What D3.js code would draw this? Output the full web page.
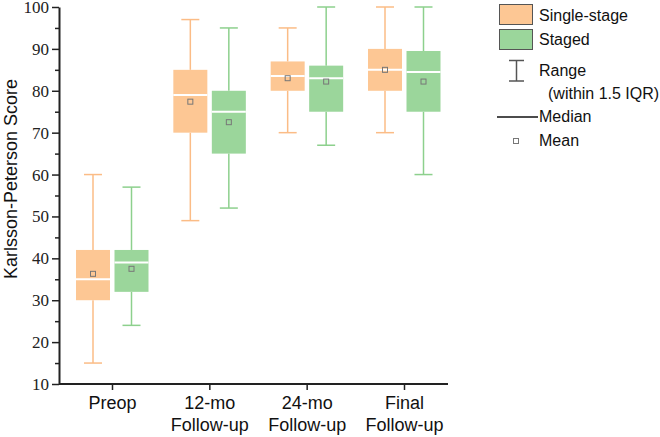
<!DOCTYPE html>
<html><head><meta charset="utf-8">
<script src="https://cdn.jsdelivr.net/npm/d3@7"></script>
<style>body{margin:0;background:#fff}svg{display:block}</style>
</head><body>
<svg id="c" width="660" height="437"></svg>
<script>
const categories = ["Preop", "12-mo\nFollow-up", "24-mo\nFollow-up", "Final\nFollow-up"];
const seriesNames = ["Single-stage", "Staged"];
// [min, q1, median, q3, max, mean]
const singleStage = [
  [15, 30, 35, 42, 60, 36.3],
  [49, 70, 79, 85, 97, 77.4],
  [70, 80, 83.5, 87, 95, 83.0],
  [70, 80, 85, 90, 100, 85.0]
];
const staged = [
  [24, 32, 39, 42, 57, 37.5],
  [52, 65, 75, 80, 95, 72.5],
  [67, 75, 83, 86, 100, 82.2],
  [60, 75, 84.5, 89.5, 100, 82.2]
];
const yTicks = [10, 20, 30, 40, 50, 60, 70, 80, 90, 100];

const svg = d3.select("#c");
const fills = ["#fdc794", "#9bd69b"];
const lines = ["#fbbc86", "#8dd08d"];
const serif = "'Liberation Serif', 'Times New Roman', serif";
const sans = "'Liberation Sans', Arial, sans-serif";

const y = d3.scaleLinear().domain([10, 100]).range([384, 7]);
const x = d3.scalePoint().domain(categories).range([112, 404]);
const axisLeft = 59, axisRight = 448;

// y axis
const ya = svg.append("g").attr("transform", `translate(${axisLeft},0)`)
  .call(d3.axisLeft(y).tickValues(yTicks).tickSize(7).tickSizeOuter(0).tickPadding(3));
ya.select(".domain").attr("stroke", "#222").attr("stroke-width", 2);
ya.selectAll(".tick line").attr("stroke", "#222").attr("stroke-width", 1.5);
ya.selectAll(".tick text").style("font-family", serif).style("font-size", "17px").attr("fill", "#222");
const ym = svg.append("g").attr("transform", `translate(${axisLeft},0)`)
  .call(d3.axisLeft(y).tickValues(d3.range(15, 100, 10)).tickSize(4).tickFormat(""));
ym.select(".domain").remove();
ym.selectAll(".tick line").attr("stroke", "#222").attr("stroke-width", 1.5);

// x axis
const xa = svg.append("g").attr("transform", `translate(0,384)`)
  .call(d3.axisBottom(x).tickSize(6).tickSizeOuter(0).tickFormat(""));
xa.select(".domain").attr("d", `M${axisLeft},0H${axisRight}`).attr("stroke", "#222").attr("stroke-width", 2);
xa.selectAll(".tick line").attr("stroke", "#222").attr("stroke-width", 1.5);
xa.selectAll(".tick").each(function(d) {
  const parts = d.split("\n");
  const t = d3.select(this).append("text").attr("text-anchor", "middle")
    .style("font-family", sans).style("font-size", "18px").attr("fill", "#111");
  parts.forEach((p, i) => t.append("tspan").attr("x", 0).attr("y", 25 + i * 22).text(p));
});

// y title
svg.append("text").attr("transform", `translate(17,179) rotate(-90)`).attr("text-anchor", "middle")
  .style("font-family", sans).style("font-size", "18px").attr("fill", "#111")
  .text("Karlsson-Peterson Score");

// boxes
const boxW = 34, capW = 18, offs = [-19, 19.5];
[singleStage, staged].forEach((series, si) => {
  series.forEach((s, ci) => {
    const cx = x(categories[ci]) + offs[si];
    const [mn, q1, md, q3, mx, mean] = s;
    const g = svg.append("g");
    g.append("line").attr("x1", cx).attr("x2", cx).attr("y1", y(mx)).attr("y2", y(q3)).attr("stroke", lines[si]).attr("stroke-width", 1.5);
    g.append("line").attr("x1", cx).attr("x2", cx).attr("y1", y(q1)).attr("y2", y(mn)).attr("stroke", lines[si]).attr("stroke-width", 1.5);
    g.append("line").attr("x1", cx - capW / 2).attr("x2", cx + capW / 2).attr("y1", y(mx)).attr("y2", y(mx)).attr("stroke", lines[si]).attr("stroke-width", 1.5);
    g.append("line").attr("x1", cx - capW / 2).attr("x2", cx + capW / 2).attr("y1", y(mn)).attr("y2", y(mn)).attr("stroke", lines[si]).attr("stroke-width", 1.5);
    g.append("rect").attr("x", cx - boxW / 2).attr("y", y(q3)).attr("width", boxW).attr("height", y(q1) - y(q3)).attr("fill", fills[si]);
    g.append("line").attr("x1", cx - boxW / 2).attr("x2", cx + boxW / 2).attr("y1", y(md)).attr("y2", y(md)).attr("stroke", "#fff").attr("stroke-width", 2);
    g.append("rect").attr("x", cx - 2.5).attr("y", y(mean) - 2.5).attr("width", 5).attr("height", 5).attr("fill", "none").attr("stroke", "#777").attr("stroke-width", 1);
  });
});

// legend
const lg = svg.append("g");
seriesNames.forEach((n, i) => {
  lg.append("rect").attr("x", 499.5).attr("y", 4.5 + i * 25).attr("width", 33).attr("height", 20).attr("fill", fills[i]).attr("stroke", "#555").attr("stroke-width", 1);
  lg.append("text").attr("x", 539).attr("y", 21 + i * 23.5).style("font-family", sans).style("font-size", "16px").attr("fill", "#111").text(n);
});
lg.append("line").attr("x1", 516.5).attr("x2", 516.5).attr("y1", 60).attr("y2", 81).attr("stroke", "#555").attr("stroke-width", 1.5);
lg.append("line").attr("x1", 509).attr("x2", 524).attr("y1", 60.5).attr("y2", 60.5).attr("stroke", "#555").attr("stroke-width", 1.5);
lg.append("line").attr("x1", 509).attr("x2", 524).attr("y1", 81).attr("y2", 81).attr("stroke", "#555").attr("stroke-width", 1.5);
const lt = (txt, xx, yy) => lg.append("text").attr("x", xx).attr("y", yy).style("font-family", sans).style("font-size", "16px").attr("fill", "#111").text(txt);
lt("Range", 539, 76);
lt("(within 1.5 IQR)", 548, 99);
lg.append("line").attr("x1", 497).attr("x2", 538).attr("y1", 117).attr("y2", 117).attr("stroke", "#111").attr("stroke-width", 1.5);
lt("Median", 539, 122);
lg.append("rect").attr("x", 513.5).attr("y", 138.5).attr("width", 5).attr("height", 5).attr("fill", "none").attr("stroke", "#777").attr("stroke-width", 1);
lt("Mean", 539, 146);
</script>
</body></html>
